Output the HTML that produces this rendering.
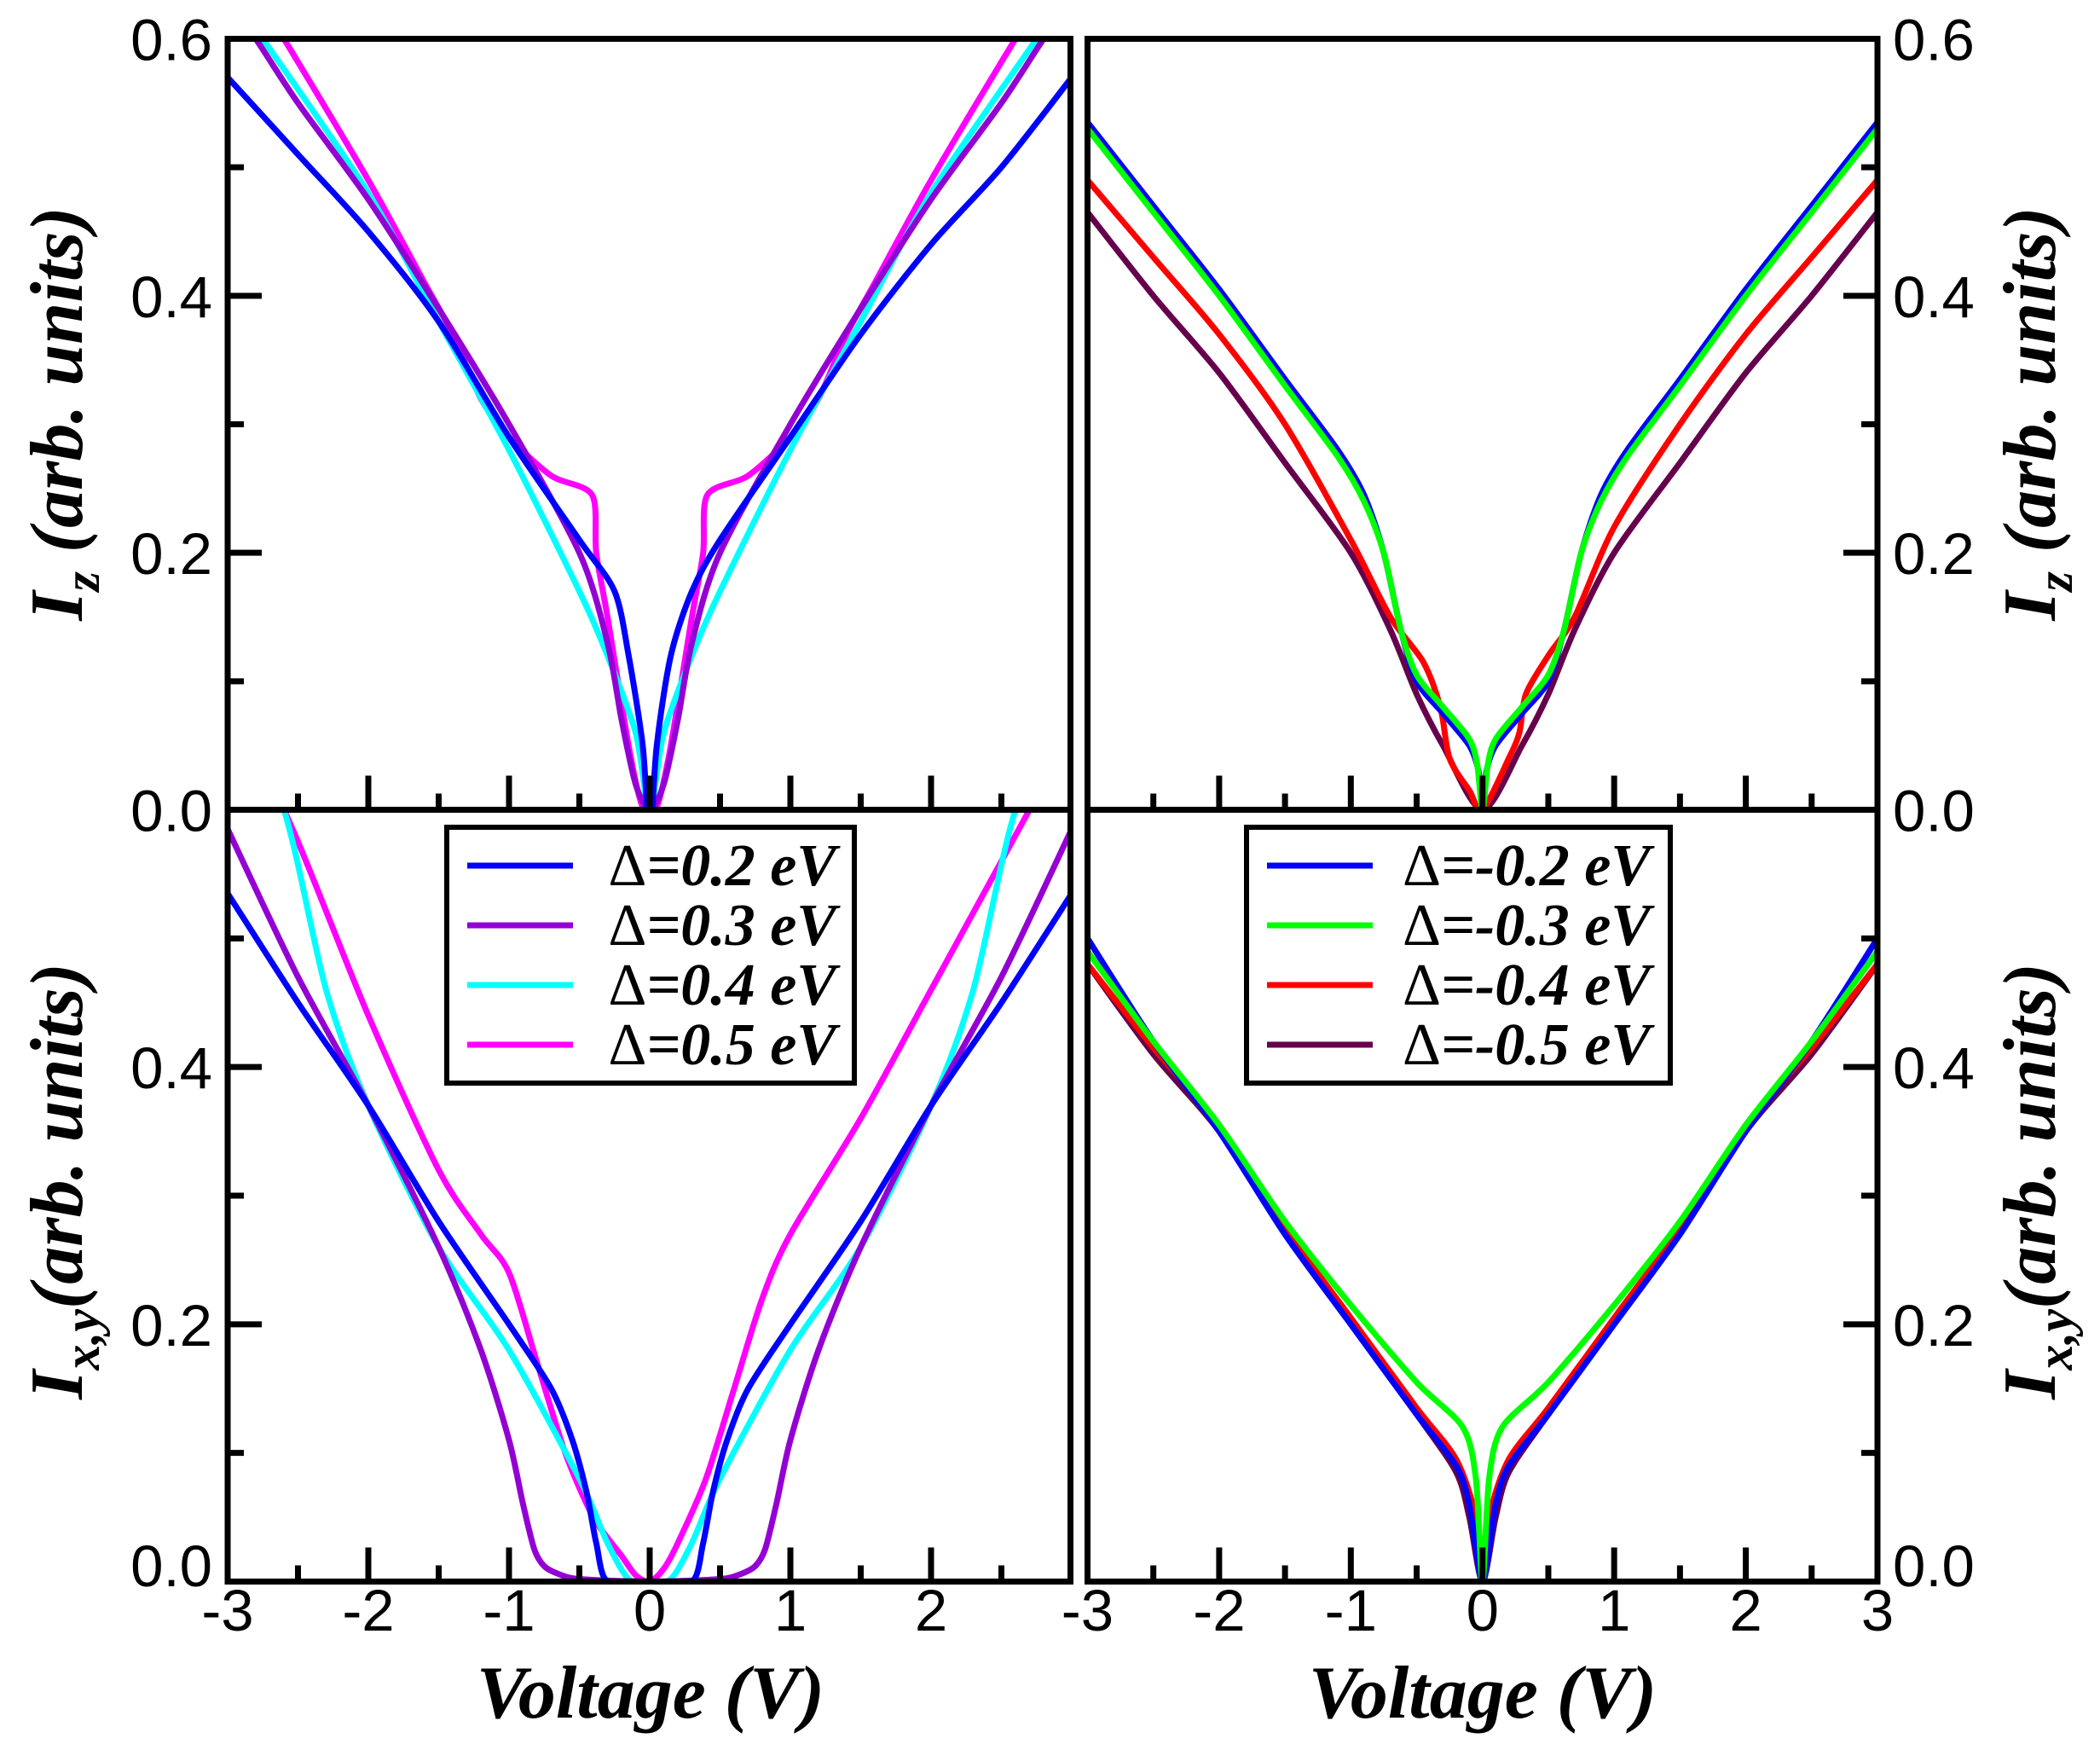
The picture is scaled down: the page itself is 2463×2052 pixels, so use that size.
<!DOCTYPE html>
<html><head><meta charset="utf-8"><style>
html,body{margin:0;padding:0;background:#fff;}
svg{display:block;}
.tl{font-family:"Liberation Sans",sans-serif;font-size:69px;fill:#000;}
.at{font-family:"Liberation Serif",serif;font-weight:bold;font-style:italic;font-size:88px;fill:#000;}
.lg{font-family:"Liberation Serif",serif;font-weight:bold;font-style:italic;font-size:70px;fill:#000;}
</style></head><body>
<svg id="s" width="2463" height="2052" xmlns="http://www.w3.org/2000/svg">
<defs>
<clipPath id="cTL"><rect x="267" y="45.5" width="988.5" height="904"/></clipPath>
<clipPath id="cBL"><rect x="267" y="949.5" width="988.5" height="905"/></clipPath>
<clipPath id="cTR"><rect x="1275.5" y="45.5" width="926.5" height="904"/></clipPath>
<clipPath id="cBR"><rect x="1275.5" y="949.5" width="926.5" height="905"/></clipPath>
</defs>
<g id="curves"></g>
<g id="axes" stroke="#000" stroke-width="7" fill="none"></g>
<g id="labels"></g>
<rect x="524" y="970" width="478" height="300" fill="#fff" stroke="#000" stroke-width="6"/>
<line x1="548" y1="1015" x2="672" y2="1015" stroke="#0000ff" stroke-width="7"/>
<line x1="548" y1="1085" x2="672" y2="1085" stroke="#9400d3" stroke-width="7"/>
<line x1="548" y1="1155" x2="672" y2="1155" stroke="#00ffff" stroke-width="7"/>
<line x1="548" y1="1225" x2="672" y2="1225" stroke="#ff00ff" stroke-width="7"/>
<text class="lg" x="981" y="1038" text-anchor="end"><tspan font-style="normal" font-weight="normal">Δ</tspan>=0.2 eV</text>
<text class="lg" x="981" y="1108" text-anchor="end"><tspan font-style="normal" font-weight="normal">Δ</tspan>=0.3 eV</text>
<text class="lg" x="981" y="1178" text-anchor="end"><tspan font-style="normal" font-weight="normal">Δ</tspan>=0.4 eV</text>
<text class="lg" x="981" y="1248" text-anchor="end"><tspan font-style="normal" font-weight="normal">Δ</tspan>=0.5 eV</text>
<rect x="1462" y="970" width="497" height="300" fill="#fff" stroke="#000" stroke-width="6"/>
<line x1="1486" y1="1015" x2="1610" y2="1015" stroke="#0000ff" stroke-width="7"/>
<line x1="1486" y1="1085" x2="1610" y2="1085" stroke="#00ff00" stroke-width="7"/>
<line x1="1486" y1="1155" x2="1610" y2="1155" stroke="#ff0000" stroke-width="7"/>
<line x1="1486" y1="1225" x2="1610" y2="1225" stroke="#66004c" stroke-width="7"/>
<text class="lg" x="1936" y="1038" text-anchor="end"><tspan font-style="normal" font-weight="normal">Δ</tspan>=-0.2 eV</text>
<text class="lg" x="1936" y="1108" text-anchor="end"><tspan font-style="normal" font-weight="normal">Δ</tspan>=-0.3 eV</text>
<text class="lg" x="1936" y="1178" text-anchor="end"><tspan font-style="normal" font-weight="normal">Δ</tspan>=-0.4 eV</text>
<text class="lg" x="1936" y="1248" text-anchor="end"><tspan font-style="normal" font-weight="normal">Δ</tspan>=-0.5 eV</text>
<text class="at" x="763" y="2014" text-anchor="middle">Voltage (V)</text>
<text class="at" x="1739" y="2014" text-anchor="middle">Voltage (V)</text>
<text class="at" transform="translate(96,485) rotate(-90)" text-anchor="middle" font-size="92">I<tspan font-size="60" dy="20">z</tspan><tspan dy="-20"> (arb. units)</tspan></text>
<text class="at" transform="translate(96,1385) rotate(-90)" text-anchor="middle" font-size="92">I<tspan font-size="60" dy="20">x,y</tspan><tspan dy="-20">(arb. units)</tspan></text>
<text class="at" transform="translate(2410,485) rotate(-90)" text-anchor="middle" font-size="92">I<tspan font-size="60" dy="20">z</tspan><tspan dy="-20"> (arb. units)</tspan></text>
<text class="at" transform="translate(2410,1385) rotate(-90)" text-anchor="middle" font-size="92">I<tspan font-size="60" dy="20">x,y</tspan><tspan dy="-20">(arb. units)</tspan></text>
</svg>
<script>
var NS="http://www.w3.org/2000/svg";
function el(p,t,a,txt){var e=document.createElementNS(NS,t);for(var k in a)e.setAttribute(k,a[k]);if(txt!=null)e.textContent=txt;p.appendChild(e);return e;}
var P={TL:{x0:762,sx:165,y0:949.5,sy:1506.7},BL:{x0:762,sx:165,y0:1854.5,sy:1508.3},
TR:{x0:1738.75,sx:154.42,y0:949.5,sy:1506.7},BR:{x0:1738.75,sx:154.42,y0:1854.5,sy:1508.3}};
function path(pn,pts){var p=P[pn];var q=pts.map(function(d){return [p.x0+p.sx*d[0],p.y0-p.sy*d[1]];});
var s="M"+q[0][0].toFixed(1)+","+q[0][1].toFixed(1);
for(var i=0;i<q.length-1;i++){var a=q[i-1]||q[i],b=q[i],c=q[i+1],d=q[i+2]||c;var t=0.14;
var c1=[b[0]+(c[0]-a[0])*t,b[1]+(c[1]-a[1])*t],c2=[c[0]-(d[0]-b[0])*t,c[1]-(d[1]-b[1])*t];
s+="C"+c1[0].toFixed(1)+","+c1[1].toFixed(1)+" "+c2[0].toFixed(1)+","+c2[1].toFixed(1)+" "+c[0].toFixed(1)+","+c[1].toFixed(1);}
return s;}
function sym(r){var l=r.slice().reverse().map(function(d){return [-d[0],d[1]];});if(r[0][0]===0)l.pop();return l.concat(r);}
var g=document.getElementById("curves");
function draw(pn,col,pts){el(g,"path",{d:path(pn,pts),stroke:col,"stroke-width":7,fill:"none","clip-path":"url(#c"+pn+")","stroke-linejoin":"round"});}
draw("TL","#ff00ff",sym([[0,0],[0.06,0.005],[0.15,0.05],[0.3,0.15],[0.38,0.2],[0.41,0.245],[0.7,0.26],[1,0.29],[1.2,0.32],[1.4,0.37],[1.6,0.41],[2,0.49],[2.6,0.6],[3,0.67]]));
draw("TL","#00ffff",sym([[0,0],[0.1,0.06],[0.3,0.12],[0.5,0.17],[1,0.28],[1.5,0.38],[2,0.48],[2.75,0.6],[3,0.64]]));
draw("TL","#9400d3",sym([[0,0],[0.1,0.02],[0.2,0.07],[0.3,0.13],[0.5,0.2],[1,0.3],[1.5,0.39],[2,0.475],[2.5,0.55],[2.8,0.6],[3,0.63]]));
draw("TL","#0000ff",[[-3,0.57],[-2.5,0.51],[-2,0.45],[-1.5,0.38],[-1,0.29],[-0.5,0.21],[-0.25,0.17],[-0.15,0.12],[-0.05,0.05],[0,-0.02],[0.05,0.05],[0.15,0.12],[0.3,0.17],[0.5,0.21],[1,0.29],[1.5,0.37],[2,0.44],[2.5,0.5],[3,0.57]]);
draw("BL","#ff00ff",[[-3,0.67],[-2.6,0.6],[-2,0.44],[-1.5,0.32],[-1.2,0.27],[-1,0.24],[-0.8,0.17],[-0.6,0.1],[-0.4,0.05],[-0.2,0.02],[-0.1,0.005],[0,0],[0.1,0.01],[0.2,0.03],[0.4,0.08],[0.6,0.15],[0.8,0.22],[1,0.27],[1.5,0.36],[2,0.46],[2.7,0.6],[3,0.66]]);
draw("BL","#00ffff",sym([[0,0],[0.15,0.002],[0.3,0.03],[0.5,0.08],[1,0.18],[1.5,0.26],[2,0.37],[2.3,0.46],[2.6,0.6],[3,0.7]]));
draw("BL","#9400d3",sym([[0,0],[0.5,0.002],[0.65,0.006],[0.75,0.012],[0.82,0.025],[0.9,0.06],[1.0,0.11],[1.2,0.18],[1.5,0.26],[2,0.37],[2.5,0.47],[3,0.585]]));
draw("BL","#0000ff",sym([[0,0],[0.3,0],[0.38,0.03],[0.45,0.07],[0.55,0.11],[0.7,0.15],[1,0.2],[1.5,0.28],[2,0.37],[2.5,0.45],[3,0.535]]));
draw("TR","#66004c",sym([[0,0],[0.3,0.05],[0.5,0.09],[0.7,0.14],[1,0.2],[1.5,0.27],[2,0.34],[2.5,0.4],[3,0.465]]));
draw("TR","#ff0000",[[-3,0.49],[-2.5,0.43],[-2,0.37],[-1.5,0.3],[-1,0.21],[-0.7,0.15],[-0.45,0.115],[-0.32,0.08],[-0.25,0.04],[-0.1,0.015],[0,0],[0.2,0.04],[0.28,0.06],[0.33,0.09],[0.5,0.12],[0.7,0.15],[1,0.22],[1.5,0.3],[2,0.37],[2.5,0.43],[3,0.49]]);
draw("TR","#0000ff",sym([[0,0],[0.03,0.03],[0.1,0.05],[0.3,0.075],[0.5,0.1],[0.62,0.14],[0.75,0.2],[0.9,0.245],[1.1,0.28],[1.5,0.335],[2,0.405],[2.5,0.47],[3,0.535]]));
draw("TR","#00ff00",sym([[0,0],[0.04,0.035],[0.1,0.055],[0.3,0.08],[0.5,0.105],[0.62,0.14],[0.75,0.2],[0.9,0.24],[1.1,0.275],[1.5,0.33],[2,0.4],[2.5,0.465],[3,0.53]]));
draw("BR","#66004c",sym([[0,0],[0.1,0.05],[0.2,0.085],[0.5,0.13],[1,0.2],[1.5,0.27],[2,0.35],[2.5,0.41],[3,0.48]]));
draw("BR","#ff0000",sym([[0,0],[0.05,0.05],[0.2,0.095],[0.5,0.135],[1,0.205],[1.5,0.275],[2,0.355],[2.5,0.415],[3,0.48]]));
draw("BR","#0000ff",sym([[0,0],[0.1,0.06],[0.2,0.09],[0.5,0.13],[1,0.2],[1.5,0.27],[2,0.35],[2.5,0.42],[3,0.5]]));
draw("BR","#00ff00",sym([[0,0],[0.05,0.08],[0.15,0.12],[0.5,0.155],[1,0.215],[1.5,0.28],[2,0.355],[2.5,0.42],[3,0.49]]));
var ax=document.getElementById("axes");
el(ax,"rect",{x:267,y:45.5,width:988.5,height:1809});
el(ax,"line",{x1:267,y1:949.5,x2:1255.5,y2:949.5});
el(ax,"rect",{x:1275.5,y:45.5,width:926.5,height:1809});
el(ax,"line",{x1:1275.5,y1:949.5,x2:2202,y2:949.5});
var L=document.getElementById("labels");
["TL","BL","TR","BR"].forEach(function(pn){var p=P[pn];var right=pn[1]=="R";
 for(var v=-3;v<=3.001;v+=0.5){var x=p.x0+p.sx*v;var len=(Math.abs(v%1)<0.01)?40:19;
  if(v>-3 && v<3) el(ax,"line",{x1:x,y1:p.y0,x2:x,y2:p.y0-len});}
 for(var k=1;k<6;k++){var i=k/10;var y=p.y0-p.sy*i;var len=(k%2==0)?40:19;
  if(right) el(ax,"line",{x1:2202,y1:y,x2:2202-len,y2:y}); else el(ax,"line",{x1:267,y1:y,x2:267+len,y2:y});}
 [0,0.2,0.4,0.6].forEach(function(i){var y=p.y0-p.sy*i+25;if(i==0&&pn[0]=="B")y=1860;
  if(pn[0]=="B"&&i==0.6)return;
  var lab=i.toFixed(1);
  if(right) el(L,"text",{"class":"tl",x:2220,y:y},lab); else el(L,"text",{"class":"tl",x:249,y:y,"text-anchor":"end"},lab);});
});
["BL","BR"].forEach(function(pn){var p=P[pn];for(var v=-3;v<=3;v++){if(pn=="BL"&&v==3)continue;
 el(L,"text",{"class":"tl",x:p.x0+p.sx*v,y:1912,"text-anchor":"middle"},String(v));}});
</script>
</body></html>
